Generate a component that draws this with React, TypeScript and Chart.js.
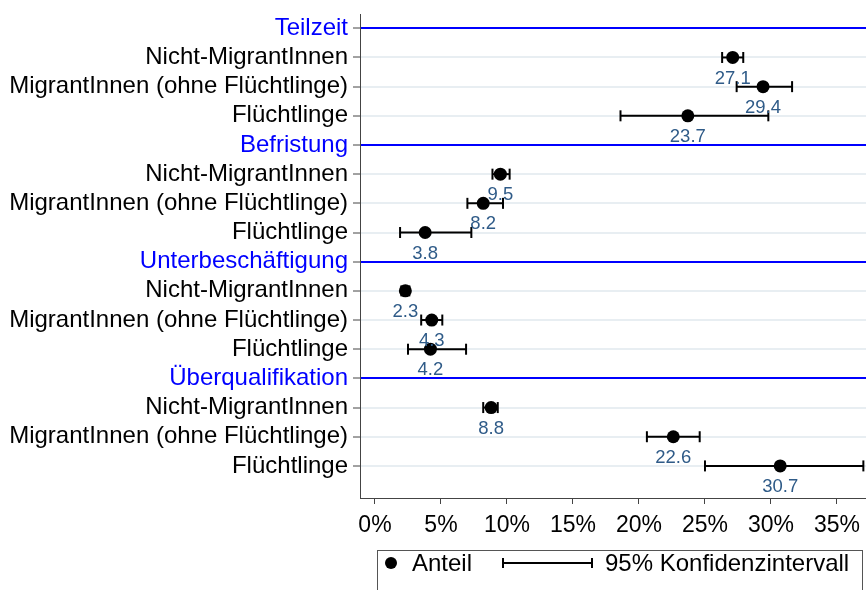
import React, { useEffect, useRef } from "react";
import { Chart, registerables } from "chart.js";

Chart.register(...registerables);

const rowLabels = [
  "Teilzeit",
  "Nicht-MigrantInnen",
  "MigrantInnen (ohne Flüchtlinge)",
  "Flüchtlinge",
  "Befristung",
  "Nicht-MigrantInnen",
  "MigrantInnen (ohne Flüchtlinge)",
  "Flüchtlinge",
  "Unterbeschäftigung",
  "Nicht-MigrantInnen",
  "MigrantInnen (ohne Flüchtlinge)",
  "Flüchtlinge",
  "Überqualifikation",
  "Nicht-MigrantInnen",
  "MigrantInnen (ohne Flüchtlinge)",
  "Flüchtlinge",
];
const headerRows = [0, 4, 8, 12];
const anteil = [27.1, 29.4, 23.7, 9.5, 8.2, 3.8, 2.3, 4.3, 4.2, 8.8, 22.6, 30.7];
const ciLow = [26.3, 27.4, 18.6, 8.9, 7.0, 1.9, 2.0, 3.5, 2.5, 8.2, 20.6, 25.0];
const ciHigh = [27.9, 31.6, 29.8, 10.2, 9.7, 7.3, 2.6, 5.1, 6.9, 9.3, 24.6, 37.0];
const xTicks = [0, 5, 10, 15, 20, 25, 30, 35];

const FONT = "'Liberation Sans', Arial, sans-serif";
const rowOf = (k: number) => Math.floor(k / 3) * 4 + 1 + (k % 3);

const valueLabels = {
  id: "valueLabels",
  afterDatasetsDraw(chart: any) {
    const ctx = chart.ctx;
    const meta = chart.getDatasetMeta(0);
    ctx.save();
    ctx.font = `18.5px ${FONT}`;
    ctx.fillStyle = "#2f5b88";
    ctx.textAlign = "center";
    ctx.textBaseline = "middle";
    meta.data.forEach((el: any, i: number) => {
      ctx.fillText(anteil[i].toFixed(1), el.x, el.y + 21);
    });
    ctx.restore();
  },
};

const customLegend = {
  id: "customLegend",
  afterDraw(chart: any) {
    const ctx = chart.ctx;
    const left = 377;
    const top = 550;
    const right = 862;
    const cy = 563;
    ctx.save();
    ctx.strokeStyle = "#555";
    ctx.lineWidth = 1;
    ctx.strokeRect(left + 0.5, top + 0.5, right - left, 60);
    ctx.fillStyle = "#000";
    ctx.beginPath();
    ctx.arc(391, cy, 6, 0, Math.PI * 2);
    ctx.fill();
    ctx.font = `24px ${FONT}`;
    ctx.textBaseline = "middle";
    ctx.textAlign = "left";
    ctx.fillText("Anteil", 412, cy + 1);
    ctx.strokeStyle = "#000";
    ctx.lineWidth = 2;
    ctx.beginPath();
    ctx.moveTo(503, cy);
    ctx.lineTo(592, cy);
    ctx.moveTo(503, cy - 5);
    ctx.lineTo(503, cy + 5);
    ctx.moveTo(592, cy - 5);
    ctx.lineTo(592, cy + 5);
    ctx.stroke();
    ctx.fillText("95% Konfidenzintervall", 605, cy + 1);
    ctx.restore();
  },
};

export default function App() {
  const ref = useRef<HTMLCanvasElement | null>(null);

  useEffect(() => {
    document.body.style.margin = "0";
    const canvas = ref.current;
    if (!canvas) return;

    const ciSets = anteil.map((_, k) => ({
      type: "scatter" as const,
      data: [
        { x: ciLow[k], y: rowOf(k) },
        { x: ciHigh[k], y: rowOf(k) },
      ],
      showLine: true,
      borderColor: "#000",
      borderWidth: 2,
      pointStyle: "line" as const,
      rotation: 90,
      pointRadius: 5.5,
      pointBorderWidth: 2,
      pointBorderColor: "#000",
      order: 2,
    }));

    const chart = new Chart(canvas, {
      type: "scatter",
      data: {
        datasets: [
          {
            data: anteil.map((v, k) => ({ x: v, y: rowOf(k) })),
            backgroundColor: "#000",
            borderWidth: 0,
            pointRadius: 6.5,
            order: 1,
          },
          ...ciSets,
        ] as any,
      },
      options: {
        responsive: false,
        animation: false,
        layout: {
          autoPadding: false,
          padding: { top: 14, right: 0, bottom: 42, left: 0 },
        },
        plugins: { legend: { display: false }, tooltip: { enabled: false } },
        scales: {
          x: {
            type: "linear",
            min: -1.136,
            max: 37.2,
            afterBuildTicks: (scale: any) => {
              scale.ticks = xTicks.map((v) => ({ value: v }));
            },
            afterFit: (scale: any) => {
              scale.height = 50;
              scale.paddingLeft = 0;
              scale.paddingRight = 0;
            },
            grid: {
              drawOnChartArea: false,
              drawTicks: true,
              tickLength: 6,
              tickColor: "#444",
            },
            border: { color: "#444", width: 1 },
            ticks: {
              callback: (v: any) => `${v}%`,
              font: { family: FONT, size: 23 },
              color: "#000",
              padding: 8,
              maxRotation: 0,
            },
          },
          y: {
            type: "linear",
            reverse: true,
            min: -0.49,
            max: 16.1,
            afterBuildTicks: (scale: any) => {
              scale.ticks = rowLabels.map((_, i) => ({ value: i }));
            },
            afterFit: (scale: any) => {
              scale.width = 360;
              scale.paddingTop = 0;
              scale.paddingBottom = 0;
            },
            grid: {
              color: (c: any) =>
                c.tick && headerRows.includes(c.tick.value) ? "#0000ff" : "#e8eef2",
              lineWidth: 2,
              tickLength: 7,
              tickColor: "#444",
              tickWidth: 1,
            },
            border: { color: "#444", width: 1 },
            ticks: {
              callback: (_v: any, i: number) => rowLabels[i],
              font: { family: FONT, size: 24 },
              color: (c: any) =>
                headerRows.includes(c.tick?.value) ? "#0000ff" : "#000",
              padding: 5,
            },
          },
        },
      },
      plugins: [valueLabels, customLegend],
    });

    return () => chart.destroy();
  }, []);

  return (
    <div style={{ width: 866, height: 590 }}>
      <canvas ref={ref} width={866} height={590} />
    </div>
  );
}
